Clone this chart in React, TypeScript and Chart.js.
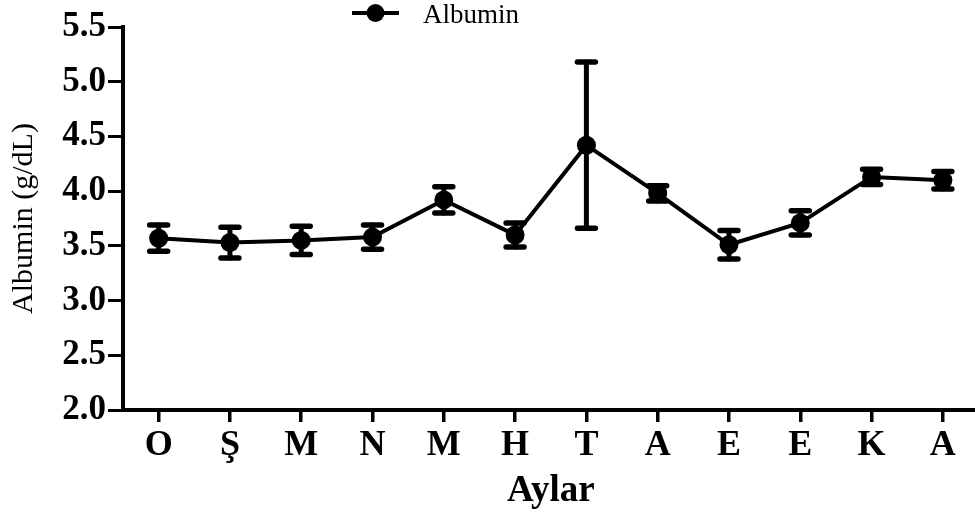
import React, { useEffect, useRef } from "react";
import { Chart, registerables } from "chart.js";

Chart.register(...registerables);

const categories = ["O", "Ş", "M", "N", "M", "H", "T", "A", "E", "E", "K", "A"];
const albuminMean = [3.57, 3.53, 3.55, 3.58, 3.92, 3.60, 4.42, 3.98, 3.51, 3.71, 4.13, 4.10];
const albuminErr = [0.12, 0.14, 0.13, 0.11, 0.12, 0.11, 0.76, 0.07, 0.13, 0.11, 0.07, 0.08];
const yTicks = [2.0, 2.5, 3.0, 3.5, 4.0, 4.5, 5.0, 5.5];
const seriesLabel = "Albumin";
const yTitle = "Albumin (g/dL)";
const xTitle = "Aylar";

const errorBarPlugin = {
  id: "errorBars",
  afterDatasetsDraw(chart: any) {
    const ctx = chart.ctx;
    const x = chart.scales.x;
    const y = chart.scales.y;
    ctx.save();
    ctx.strokeStyle = "#000";
    ctx.lineCap = "round";
    albuminMean.forEach((m, i) => {
      const px = x.getPixelForValue(i);
      const top = y.getPixelForValue(m + albuminErr[i]);
      const bot = y.getPixelForValue(m - albuminErr[i]);
      ctx.lineWidth = 5;
      ctx.beginPath();
      ctx.moveTo(px, top);
      ctx.lineTo(px, bot);
      ctx.stroke();
      ctx.lineWidth = 5.5;
      ctx.beginPath();
      ctx.moveTo(px - 9, top);
      ctx.lineTo(px + 9, top);
      ctx.moveTo(px - 9, bot);
      ctx.lineTo(px + 9, bot);
      ctx.stroke();
    });
    ctx.restore();
  },
};

const legendPlugin = {
  id: "customLegend",
  afterDraw(chart: any) {
    const ctx = chart.ctx;
    const label = chart.data.datasets[0].label;
    ctx.save();
    ctx.strokeStyle = "#000";
    ctx.fillStyle = "#000";
    ctx.lineWidth = 4;
    ctx.beginPath();
    ctx.moveTo(352, 13);
    ctx.lineTo(399, 13);
    ctx.stroke();
    ctx.beginPath();
    ctx.arc(375.5, 13, 9, 0, Math.PI * 2);
    ctx.fill();
    ctx.font = "27px 'Liberation Serif'";
    ctx.textBaseline = "alphabetic";
    ctx.textAlign = "left";
    ctx.fillText(label, 423, 23);
    ctx.restore();
  },
};

export default function App() {
  const ref = useRef<HTMLCanvasElement | null>(null);
  useEffect(() => {
    if (!ref.current) return;
    const chart = new Chart(ref.current, {
      type: "line",
      data: {
        labels: categories,
        datasets: [
          {
            label: seriesLabel,
            data: albuminMean,
            borderColor: "#000",
            backgroundColor: "#000",
            borderWidth: 4,
            pointRadius: 9.5,
            pointBorderWidth: 0,
            pointBackgroundColor: "#000",
            tension: 0,
          },
        ],
      },
      options: {
        animation: false,
        responsive: true,
        maintainAspectRatio: false,
        layout: { padding: { top: 27, right: 0, left: 0, bottom: 0 } },
        plugins: {
          legend: { display: false },
          tooltip: { enabled: false },
        },
        scales: {
          x: {
            type: "category",
            offset: true,
            grid: {
              drawOnChartArea: false,
              drawTicks: true,
              tickLength: 12,
              lineWidth: 3.5,
              color: "#000",
              offset: false,
            },
            border: { display: true, color: "#000", width: 4 },
            ticks: {
              color: "#000",
              padding: 2,
              font: { family: "'Liberation Serif'", size: 36, weight: "bold" },
              maxRotation: 0,
              autoSkip: false,
            },
            title: {
              display: true,
              text: xTitle,
              color: "#000",
              font: { family: "'Liberation Serif'", size: 37, weight: "bold" },
              padding: { top: 2, bottom: 3 },
            },
            afterFit(scale: any) {
              scale.height = 107;
            },
          },
          y: {
            min: 2,
            max: 5.5,
            afterBuildTicks(scale: any) {
              scale.ticks = yTicks.map((v) => ({ value: v }));
            },
            grid: {
              drawOnChartArea: false,
              drawTicks: true,
              tickLength: 15,
              lineWidth: 3,
              color: "#000",
            },
            border: { display: true, color: "#000", width: 4 },
            ticks: {
              color: "#000",
              padding: 2,
              font: { family: "'Liberation Serif'", size: 35, weight: "bold" },
              callback: (v: any) => Number(v).toFixed(1),
            },
            title: {
              display: true,
              text: yTitle,
              color: "#000",
              font: { family: "'Liberation Serif'", size: 30 },
              padding: { top: 6, bottom: 0 },
            },
            afterFit(scale: any) {
              scale.width = 123;
            },
          },
        },
      },
      plugins: [errorBarPlugin, legendPlugin],
    });
    return () => chart.destroy();
  }, []);
  return (
    <div style={{ position: "fixed", left: 0, top: 0, width: 975, height: 517, overflow: "hidden", background: "#fff" }}>
      <div style={{ position: "relative", width: 988, height: 517 }}>
        <canvas ref={ref} />
      </div>
    </div>
  );
}
